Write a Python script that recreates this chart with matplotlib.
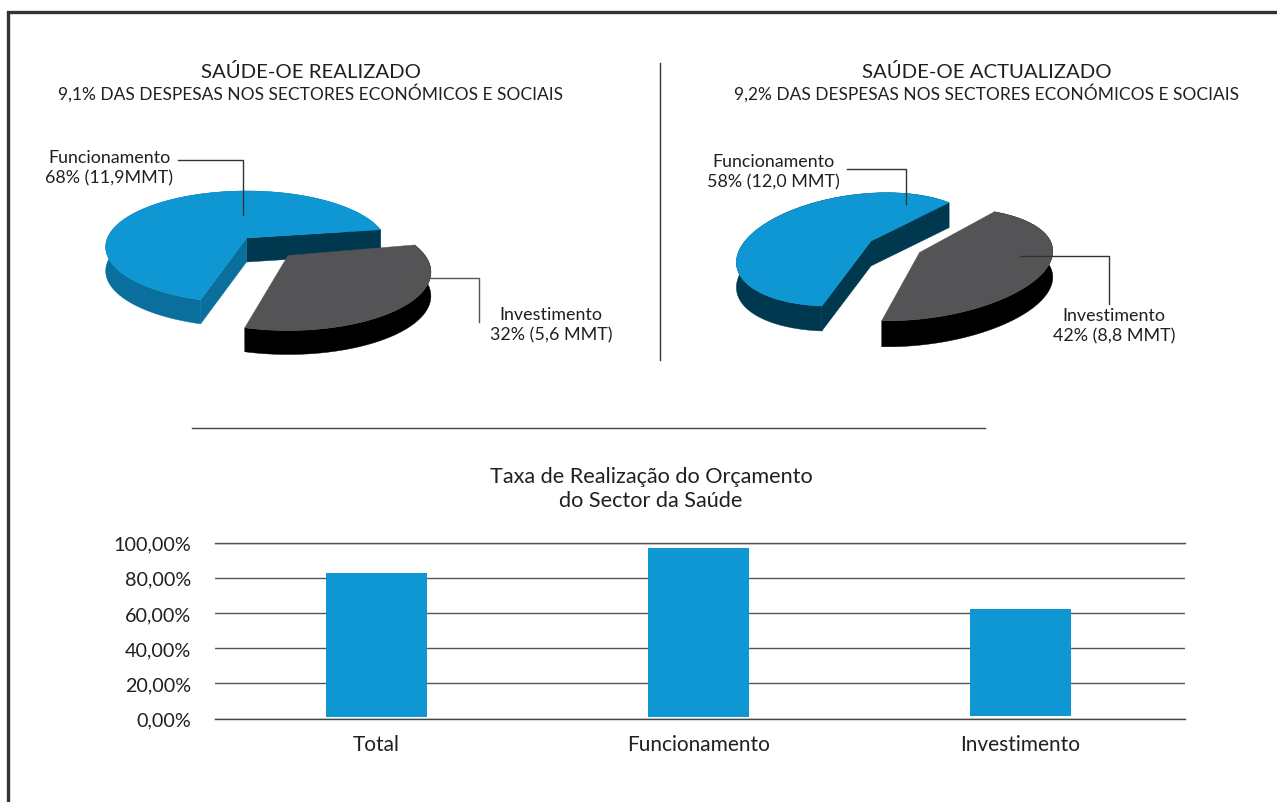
import numpy as np
import matplotlib
matplotlib.use('Agg')
import matplotlib.pyplot as plt
from matplotlib.patches import Polygon

plt.rcParams['font.family'] = ['Lato', 'DejaVu Sans']

# parts of the budget, left pie and right pie (percent)
shares_realizado = [68, 32]
shares_actualizado = [58, 42]
labels_realizado = ['Funcionamento\n68% (11,9MMT)', 'Investimento\n32% (5,6 MMT)']
labels_actualizado = ['Funcionamento\n58% (12,0 MMT)', 'Investimento\n42% (8,8 MMT)']

# execution rate per category
categorias = ['Total', 'Funcionamento', 'Investimento']
taxa = [82.8, 97.0, 62.4]
taxa_base = [1.0, 1.0, 1.6]
ticks = [0, 20, 40, 60, 80, 100]
tick_labels = ['0,00%', '20,00%', '40,00%', '60,00%', '80,00%', '100,00%']

AZUL = '#0e97d3'
AZUL_MEDIO = '#0a6f9d'
AZUL_ESCURO = '#00394f'
CINZA = '#545456'
TEXTO = '#231f20'

fig = plt.figure(figsize=(12.77, 8.03), dpi=100)
bg = fig.add_axes([0, 0, 1, 1])
bg.set_xlim(0, 1277)
bg.set_ylim(803, 0)
bg.axis('off')


def project(theta, g):
    # circle seen in perspective, theta in degrees, result in page pixels
    t = np.radians(theta)
    w = 1 + g['k'] * np.sin(t) + g.get('m', 0) * np.cos(t)
    dx = g['a'] * np.cos(t) / w
    dy = g['b'] * np.sin(t) / w
    return g['x'] + dx, g['y'] - dy - g['s'] * dx


def slice3d(t0, share, g, top, rim, wall0=None, wall1=None, depth=24):
    t1 = t0 + share * 3.6
    th = np.linspace(t0, t1, 200)
    xs, ys = project(th, g)
    arc = np.column_stack([xs, ys])
    low = arc + [0, depth]
    apex = np.array([g['x'], g['y']])
    bg.add_patch(Polygon(np.vstack([arc, low[::-1]]), fc=rim, ec=rim, lw=0.3, zorder=2))
    # side walls of the cut, only where they face the viewer
    if wall0:
        q = [apex, arc[0], low[0], apex + [0, depth]]
        bg.add_patch(Polygon(q, fc=wall0, ec=wall0, lw=0.3, zorder=3))
    if wall1:
        q = [apex, arc[-1], low[-1], apex + [0, depth]]
        bg.add_patch(Polygon(q, fc=wall1, ec=wall1, lw=0.3, zorder=3))
    bg.add_patch(Polygon(np.vstack([apex, arc]), fc=top, ec=top, lw=0.3, zorder=4))
    return t1


# left pie
g1 = dict(x=246.5, y=239, a=139, b=54.5, k=0.16, s=0)
g2 = dict(x=288, y=256.5, a=137, b=53.7, k=0.284, s=0)
fim = slice3d(9, shares_realizado[0], g1, AZUL, AZUL_MEDIO, AZUL_ESCURO, AZUL_MEDIO)
slice3d(fim + 3, shares_realizado[1], g2, CINZA, 'black')

# right pie
g3 = dict(x=871, y=242, a=120, b=54, k=0.13, m=0.1, s=0.1)
g4 = dict(x=919.5, y=253.5, a=130, b=52, k=0.22, s=0.1)
fim = slice3d(41, shares_actualizado[0], g3, AZUL, AZUL_ESCURO, AZUL_ESCURO, AZUL_ESCURO, depth=25)
slice3d(fim + 7, shares_actualizado[1], g4, CINZA, 'black', depth=26)

# page frame and separators
bg.plot([8, 8, 1277], [803, 12.5, 12.5], color='#333333', lw=2.4, solid_joinstyle='miter')
bg.plot([659.5, 659.5], [64, 361], color='#333333', lw=1)
bg.plot([192, 985], [428.5, 428.5], color='#444444', lw=1)

# leader lines
bg.plot([178, 243, 243], [161, 161, 216], color='#333333', lw=1, zorder=6)
bg.plot([408, 479, 479], [278.5, 278.5, 323], color='#555555', lw=1, zorder=6)
bg.plot([847, 906, 906], [170, 170, 205], color='#333333', lw=1, zorder=6)
bg.plot([1020, 1109, 1109], [257, 257, 305], color='#333333', lw=1, zorder=6)

# titles
bg.text(311, 71.5, 'SAÚDE-OE REALIZADO', ha='center', va='center', fontsize=14.7, color=TEXTO)
bg.text(311, 93, '9,1% DAS DESPESAS NOS SECTORES ECONÓMICOS E SOCIAIS', ha='center', va='center', fontsize=12.5, color=TEXTO)
bg.text(987, 71.5, 'SAÚDE-OE ACTUALIZADO', ha='center', va='center', fontsize=14.7, color=TEXTO)
bg.text(987, 93, '9,2% DAS DESPESAS NOS SECTORES ECONÓMICOS E SOCIAIS', ha='center', va='center', fontsize=12.5, color=TEXTO)
bg.text(651, 489, 'Taxa de Realização do Orçamento\ndo Sector da Saúde', ha='center', va='center', fontsize=15.6, color=TEXTO, linespacing=1.2)

# slice labels
lb = dict(ha='center', va='center', fontsize=12.9, color=TEXTO, linespacing=1.3)
bg.text(109, 168, labels_realizado[0], **lb)
bg.text(551, 325, labels_realizado[1], **lb)
bg.text(773, 172, labels_actualizado[0], **lb)
bg.text(1114, 326.5, labels_actualizado[1], **lb)

# bar chart
ax = fig.add_axes([215 / 1277, 1 - 719.5 / 803, 970 / 1277, 176 / 803])
ax.patch.set_alpha(0)
x = np.arange(len(categorias))
alturas = [v - b for v, b in zip(taxa, taxa_base)]
ax.bar(x, alturas, bottom=taxa_base, width=101 / 322, color=AZUL, zorder=3)
ax.set_xlim(-0.5016, 2.511)
ax.set_ylim(0, 100)
ax.set_yticks(ticks)
ax.set_yticklabels(tick_labels, fontsize=14.2, color=TEXTO)
ax.set_xticks(x)
ax.set_xticklabels(categorias, fontsize=15, color=TEXTO)
ax.tick_params(length=0)
ax.tick_params(axis='y', pad=17)
ax.tick_params(axis='x', pad=11)
ax.grid(axis='y', color='#555555', lw=1, zorder=1)
for s in ax.spines.values():
    s.set_visible(False)
for v in [0, 100]:
    ax.axhline(v, color='#444444', lw=1, clip_on=False, zorder=1)

plt.savefig('out.png', dpi=100)
